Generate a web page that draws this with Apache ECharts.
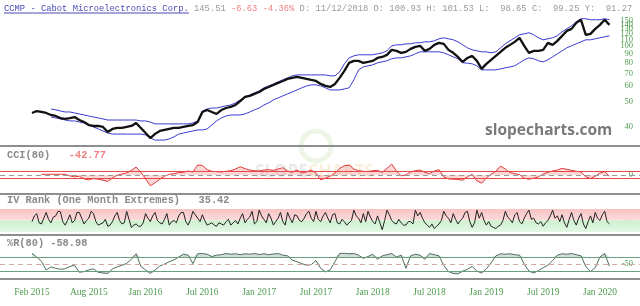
<!DOCTYPE html>
<html>
<head>
<meta charset="utf-8">
<script src="https://cdn.jsdelivr.net/npm/echarts@6/dist/echarts.min.js"></script>
<style>
  html, body { margin: 0; padding: 0; background: #fff; }
  #chart { width: 640px; height: 306px; }
</style>
</head>
<body>
<div id="chart"></div>
<script>
// x axis: one label every 12 points, first point = Feb 2015
const dateTicks = ['Feb 2015', 'Aug 2015', 'Jan 2016', 'Jul 2016', 'Jan 2017', 'Jul 2017',
  'Jan 2018', 'Jul 2018', 'Jan 2019', 'Jul 2019', 'Jan 2020'];
const tickStep = 12;
const priceTicks = [40, 50, 60, 70, 80, 90, 100, 110, 120, 130, 140, 150, 160];
const ivTicks = [0, 50];

// closing price
const close = [50.1, 51.3, 50.7, 50.1, 48.9, 48.3, 47.1, 46.6, 47.1, 47.7,
  46.0, 44.9, 43.3, 42.8, 42.8, 42.3, 39.8, 41.3, 41.8, 41.8,
  42.3, 42.8, 44.4, 41.8, 39.3, 37.0, 38.9, 40.3, 40.8, 41.3,
  41.8, 41.8, 42.3, 42.8, 43.3, 44.9, 50.7, 51.9, 50.7, 49.5,
  51.9, 53.2, 53.9, 55.2, 57.9, 60.8, 61.6, 63.1, 64.6, 67.0,
  68.6, 70.3, 72.1, 73.8, 75.7, 76.6, 77.5, 76.6, 75.7, 74.7,
  73.8, 71.2, 69.5, 68.6, 71.2, 76.6, 83.3, 91.8, 94.1, 94.1,
  91.8, 92.9, 94.1, 97.5, 98.7, 101.2, 107.5, 106.2, 103.7, 104.9,
  108.8, 111.5, 112.9, 106.2, 108.8, 114.2, 117.0, 115.6, 107.5, 103.7,
  98.7, 92.9, 97.5, 99.9, 94.1, 85.4, 90.7, 95.2, 99.9, 104.9,
  110.2, 114.2, 118.4, 124.3, 112.9, 103.7, 106.2, 106.2, 107.5, 117.0,
  114.2, 119.9, 127.4, 135.3, 138.6, 149.1, 154.7, 128.9, 130.5, 138.6,
  145.5, 154.7, 145.51];

const upperBand = [null, null, null, null, 52.6, 52.0, 51.3, 50.7, 50.7, 50.1,
  49.5, 48.9, 48.3, 47.7, 47.2, 46.6, 46.0, 46.0, 46.0, 46.0,
  46.0, 46.0, 46.0, 45.5, 45.5, 44.9, 43.9, 43.9, 43.9, 43.9,
  43.9, 43.9, 43.9, 43.9, 44.4, 45.5, 51.3, 52.6, 53.2, 53.2,
  53.9, 54.6, 55.2, 56.6, 58.7, 60.8, 62.3, 63.9, 65.4, 67.9,
  69.5, 71.2, 73.0, 74.8, 76.6, 78.5, 79.4, 79.4, 79.4, 79.4,
  79.4, 79.4, 79.4, 78.5, 78.5, 82.4, 90.8, 97.6, 100.0, 101.3,
  101.3, 101.3, 101.3, 102.5, 103.7, 106.3, 112.9, 114.3, 114.3, 115.7,
  115.7, 117.1, 117.1, 118.5, 118.5, 120.0, 122.9, 124.4, 122.9, 121.4,
  118.5, 114.3, 110.2, 107.6, 106.3, 105.0, 105.0, 103.7, 105.0, 110.2,
  115.7, 120.0, 124.4, 129.0, 130.6, 132.2, 129.0, 124.4, 121.4, 122.9,
  124.4, 127.5, 133.8, 138.8, 143.9, 151.1, 156.7, 156.7, 154.8, 154.8,
  154.8, 156.7, 154.8];

const lowerBand = [null, null, null, null, 47.7, 47.2, 46.6, 46.0, 45.5, 45.5,
  44.9, 44.4, 43.3, 42.3, 41.3, 40.3, 39.3, 38.8, 38.8, 38.8,
  38.8, 38.8, 38.8, 38.8, 38.4, 37.0, 36.1, 36.1, 36.1, 36.6,
  37.5, 38.8, 39.3, 39.8, 40.3, 40.8, 40.8, 41.3, 43.3, 45.5,
  47.2, 48.3, 48.9, 48.9, 48.9, 49.5, 50.7, 52.0, 53.2, 55.2,
  56.6, 58.7, 60.1, 61.6, 63.1, 64.6, 66.2, 67.9, 69.5, 70.4,
  70.4, 69.5, 67.9, 66.2, 66.2, 66.2, 67.0, 67.9, 74.8, 84.4,
  87.5, 88.6, 89.7, 91.9, 93.0, 94.2, 96.5, 97.6, 97.6, 98.8,
  100.0, 102.5, 105.0, 105.0, 105.0, 105.0, 105.0, 103.7, 101.3, 98.8,
  96.5, 92.0, 91.5, 90.8, 88.6, 84.4, 84.4, 84.4, 84.4, 85.4,
  86.5, 87.5, 88.6, 91.9, 95.3, 97.6, 96.5, 94.2, 93.0, 95.3,
  98.8, 102.5, 106.3, 110.2, 112.9, 115.7, 118.5, 121.4, 121.4, 122.9,
  124.4, 125.9, 127.5];

const cci = [null, null, 20, 20, 20, 20, 20, 20, -30, -60,
  -40, -120, -150, -110, -130, -160, -200, -90, -10, 30,
  60, 140, 240, 80, -120, -330, -240, -130, -40, 20,
  40, 70, 80, 120, 90, 300, 290, 160, 110, 100,
  90, 110, 130, 180, 250, 190, 150, 130, 120, 150,
  160, 140, 180, 220, 120, 80, 150, 60, 90, 150,
  60, -150, -100, -40, 60, 200, 280, 300, 180, 130,
  110, 100, 130, 140, 80, 200, 330, 120, -30, 0,
  90, 130, 150, 80, 40, 120, 160, -60, -120, -130,
  -140, -160, -60, 20, -180, -250, -90, 20, 110, 270,
  180, 70, 40, 10, -100, -130, -100, -60, 30, 80,
  120, 150, 200, 170, 140, 110, 90, -60, -110, -40,
  60, 100, -42.77];

// IV rank is sampled twice as often as the other series
const ivStep = 0.5;
const ivRank = [45, 70, 80, 40, 35, 60, 85, 55, 40, 65,
  70, 90, 88, 45, 30, 50, 75, 40, 50, 85,
  85, 60, 35, 50, 60, 90, 80, 45, 30, 35,
  40, 55, 25, 30, 45, 70, 85, 50, 35, 40,
  90, 55, 20, 30, 35, 25, 25, 40, 80, 60,
  45, 70, 85, 50, 40, 35, 55, 80, 30, 45,
  50, 40, 70, 85, 85, 45, 30, 55, 90, 75,
  60, 45, 75, 50, 30, 35, 40, 30, 25, 40,
  35, 30, 45, 55, 30, 40, 50, 35, 60, 80,
  40, 55, 65, 90, 35, 45, 95, 70, 55, 40,
  80, 60, 30, 45, 60, 85, 45, 30, 85, 60,
  40, 75, 70, 50, 45, 60, 80, 90, 60, 45,
  90, 55, 45, 70, 85, 60, 40, 75, 80, 40,
  35, 55, 45, 30, 40, 50, 95, 70, 60, 40,
  80, 45, 90, 65, 45, 35, 70, 40, 10, 50,
  95, 75, 50, 40, 35, 55, 40, 30, 30, 45,
  45, 35, 95, 70, 85, 60, 40, 30, 20, 35,
  15, 25, 35, 50, 90, 70, 60, 40, 80, 55,
  35, 50, 60, 85, 90, 45, 20, 40, 95, 60,
  85, 50, 30, 45, 25, 20, 15, 25, 30, 50,
  90, 65, 55, 40, 75, 85, 45, 35, 60, 80,
  95, 55, 60, 40, 35, 45, 25, 40, 50, 70,
  95, 60, 70, 45, 75, 40, 20, 55, 85, 50,
  30, 60, 80, 35, 15, 45, 70, 40, 85, 60,
  50, 75, 90, 45, 35.42];

const willR = [-4, -20, -38, -75, -62, -68, -72, -70, -60, -55,
  -85, -82, -75, -70, -85, -88, -90, -70, -62, -55,
  -47, -30, -6, -60, -75, -90, -75, -58, -50, -40,
  -32, -20, -8, -12, -48, -6, -5, -8, -18, -12,
  -10, -5, -8, -6, -10, -6, -8, -5, -9, -6,
  -10, -7, -5, -12, -15, -33, -40, -48, -55, -52,
  -35, -68, -83, -75, -40, -5, -4, -6, -5, -12,
  -26, -18, -8, -30, -15, -10, -5, -20, -12, -68,
  -15, -8, -12, -30, -5, -10, -15, -55, -82, -90,
  -92, -80, -72, -60, -80, -88, -70, -45, -15, -6,
  -8, -6, -10, -12, -50, -80, -88, -78, -65, -55,
  -35, -12, -6, -8, -5, -10, -15, -60, -82, -65,
  -20, -5, -58.98];

const mono = 'Liberation Mono, DejaVu Sans Mono, monospace';
const serif = 'Liberation Serif, DejaVu Serif, serif';
const tickGreen = '#4f9a4f';

// the site draws its scale labels a little above their ticks (px)
const priceLabelLift = { 40: 5, 50: 11, 60: 12, 70: 12, 80: 12, 90: 11, 100: 10,
  110: 8, 120: 7, 130: 5, 140: 3, 150: 2, 160: 0 };
const ivLabelLift = { 0: 3, 50: 1 };
const liftedRich = (ticks, lift, prefix) => {
  const rich = {};
  ticks.forEach(v => {
    rich[prefix + v] = { fontFamily: serif, fontSize: 8.5, color: tickGreen, padding: [0, 0, lift[v] * 2, 0] };
  });
  return rich;
};

// index-based x axis so the panels can run edge to edge
const xMin = -6.76, xMax = 128.46;
const pts = (arr, step = 1) => arr.map((v, i) => [i * step, v == null ? '-' : v]);

const chart = echarts.init(document.getElementById('chart'));

const hiddenX = (gridIndex) => ({
  type: 'value', gridIndex, min: xMin, max: xMax,
  axisLine: { show: false }, axisTick: { show: false }, splitLine: { show: false },
  axisLabel: { show: false }
});

const rightY = (gridIndex, extra) => Object.assign({
  gridIndex, position: 'right',
  axisLine: { show: false }, axisTick: { show: false }, splitLine: { show: false }
}, extra);

const lineSeries = (name, data, xi, color, width, extra) => Object.assign({
  name, type: 'line', xAxisIndex: xi, yAxisIndex: xi, data: pts(data),
  showSymbol: false, symbol: 'none', silent: true,
  lineStyle: { color, width }
}, extra);

const hLine = (y, color, type) => ({ yAxis: y, lineStyle: { color, width: 1, type } });
const smallLabel = (values) => ({ inside: true, margin: 7, customValues: values,
  color: tickGreen, fontFamily: serif, fontSize: 8.5 });

chart.setOption({
  animation: false,
  backgroundColor: '#fff',
  title: [
    {
      left: 4, top: 4, padding: 0,
      text: '{a|CCMP - Cabot Microelectronics Corp.}{g| 145.51 }{r|-6.63 -4.36%}{g| D: 11/12/2018 O: 100.93 H: 101.53 L:  98.65 C:  99.25 Y:  91.27}',
      textStyle: {
        fontFamily: mono, fontSize: 8.8, fontWeight: 'normal',
        rich: {
          a: { fontFamily: mono, fontSize: 8.8, color: '#4a4ab6' },
          g: { fontFamily: mono, fontSize: 8.8, color: '#9a9a9a' },
          r: { fontFamily: mono, fontSize: 8.8, color: '#ee8080' }
        }
      }
    },
    {
      left: 7, top: 150, padding: 0,
      text: '{g|CCI(80)   }{r|-42.77}',
      textStyle: { rich: {
        g: { fontFamily: mono, fontSize: 10.3, color: '#8a8a8a' },
        r: { fontFamily: mono, fontSize: 10.3, color: '#ee8080' }
      } }
    },
    {
      left: 7, top: 195, padding: 0,
      text: '{g|IV Rank (One Month Extremes)   35.42}',
      textStyle: { rich: { g: { fontFamily: mono, fontSize: 10.3, color: '#8a8a8a' } } }
    },
    {
      left: 7, top: 238, padding: 0,
      text: '{g|%R(80) -58.98}',
      textStyle: { rich: { g: { fontFamily: mono, fontSize: 10.3, color: '#8a8a8a' } } }
    }
  ],
  grid: [
    { left: 0, right: 0, top: 12, height: 133, containLabel: false, outerBoundsMode: 'none' },
    { left: 0, right: 0, top: 147, height: 46, containLabel: false, outerBoundsMode: 'none' },
    { left: 0, right: 0, top: 209, height: 23, containLabel: false, outerBoundsMode: 'none' },
    { left: 0, right: 0, top: 250, height: 27, containLabel: false, outerBoundsMode: 'none' }
  ],
  xAxis: [
    hiddenX(0), hiddenX(1), hiddenX(2),
    Object.assign(hiddenX(3), {
      axisLabel: {
        show: true,
        customValues: dateTicks.map((_, k) => k * tickStep),
        formatter: v => dateTicks[Math.round(v / tickStep)],
        color: tickGreen, fontFamily: serif, fontSize: 9.5, margin: 10
      }
    })
  ],
  yAxis: [
    rightY(0, {
      type: 'log', logBase: 10, min: 34, max: 170,
      axisLabel: { inside: true, margin: 7, customValues: priceTicks,
        formatter: v => '{p' + Math.round(v) + '|' + Math.round(v) + '}',
        rich: liftedRich(priceTicks, priceLabelLift, 'p'),
        color: tickGreen, fontFamily: serif, fontSize: 8.5 }
    }),
    rightY(1, { type: 'value', min: -550, max: 850, axisLabel: smallLabel([0]) }),
    rightY(2, {
      type: 'value', min: 0, max: 100,
      axisLabel: Object.assign(smallLabel(ivTicks), {
        formatter: v => '{v' + Math.round(v) + '|' + Math.round(v) + '}',
        rich: liftedRich(ivTicks, ivLabelLift, 'v')
      })
    }),
    rightY(3, { type: 'value', min: -105, max: 10, axisLabel: smallLabel([-50]) })
  ],
  series: [
    lineSeries('Upper', upperBand, 0, '#3a3ad2', 1),
    lineSeries('Lower', lowerBand, 0, '#3a3ad2', 1),
    lineSeries('CCMP', close, 0, '#111', 2.3),
    lineSeries('CCI(80)', cci, 1, '#e23a3a', 1, {
      areaStyle: { origin: 0, color: 'rgba(238,90,90,0.35)' },
      markLine: {
        silent: true, symbol: 'none', label: { show: false },
        data: [hLine(100, '#e84848', 'solid'), hLine(-100, '#e84848', 'solid'), hLine(0, '#9a9a9a', [5, 4])]
      }
    }),
    lineSeries('IV Rank', ivRank, 2, '#222', 1, {
      data: pts(ivRank, ivStep),
      markArea: {
        silent: true,
        data: [
          [{ yAxis: 50, itemStyle: { color: {
            type: 'linear', x: 0, y: 0, x2: 0, y2: 1,
            colorStops: [{ offset: 0, color: '#f7c2c2' }, { offset: 1, color: '#fbdcdc' }] } } },
          { yAxis: 100 }],
          [{ yAxis: 0, itemStyle: { color: {
            type: 'linear', x: 0, y: 0, x2: 0, y2: 1,
            colorStops: [{ offset: 0, color: '#cdf0cd' }, { offset: 1, color: '#e4f8e4' }] } } },
          { yAxis: 50 }]
        ]
      }
    }),
    // shading of %R beyond its -20 / -80 guide lines
    lineSeries('%R high', willR.map(v => Math.max(v, -20)), 3, 'transparent', 0, {
      areaStyle: { origin: -20, color: 'rgba(80,120,95,0.35)' }
    }),
    lineSeries('%R low', willR.map(v => Math.min(v, -80)), 3, 'transparent', 0, {
      areaStyle: { origin: -80, color: 'rgba(80,120,95,0.35)' }
    }),
    lineSeries('%R(80)', willR, 3, '#4d6e5c', 1, {
      markLine: {
        silent: true, symbol: 'none', label: { show: false },
        data: [hLine(-20, '#6a9e80', 'solid'), hLine(-80, '#6a9e80', 'solid'), hLine(-50, '#d7a6a6', [5, 4])]
      }
    })
  ],
  graphic: [
    { type: 'line', silent: true, shape: { x1: 4, y1: 13, x2: 189, y2: 13 },
      style: { stroke: '#4a4ab6', lineWidth: 1 } },
    { type: 'rect', silent: true, shape: { x: 0, y: 145, width: 640, height: 2 }, style: { fill: '#8e8e8e' } },
    { type: 'rect', silent: true, shape: { x: 0, y: 193, width: 640, height: 2 }, style: { fill: '#8e8e8e' } },
    { type: 'rect', silent: true, shape: { x: 0, y: 234, width: 640, height: 2 }, style: { fill: '#8e8e8e' } },
    { type: 'rect', silent: true, shape: { x: 0, y: 278, width: 640, height: 2 }, style: { fill: '#8e8e8e' } },
    // faint logo watermark
    { type: 'circle', silent: true, z: -1, shape: { cx: 316, cy: 146, r: 15 },
      style: { fill: 'none', stroke: 'rgba(170,210,140,0.22)', lineWidth: 5 } },
    { type: 'text', silent: true, z: -1, x: 255, y: 172,
      style: { text: '{s|SLOPE}{c|CHARTS}', verticalAlign: 'middle',
        rich: {
          s: { fontFamily: 'Open Sans', fontWeight: 'bold', fontSize: 17, fill: 'rgba(150,150,150,0.2)' },
          c: { fontFamily: 'Open Sans', fontWeight: 'bold', fontSize: 17, fill: 'rgba(235,190,120,0.25)' }
        } } },
    { type: 'text', silent: true, x: 485, y: 131,
      style: { text: 'slopecharts.com', fontFamily: 'Open Sans', fontWeight: 'bold', fontSize: 15.5,
        fill: '#7a7a7a', verticalAlign: 'middle' } }
  ]
});
</script>
</body>
</html>
